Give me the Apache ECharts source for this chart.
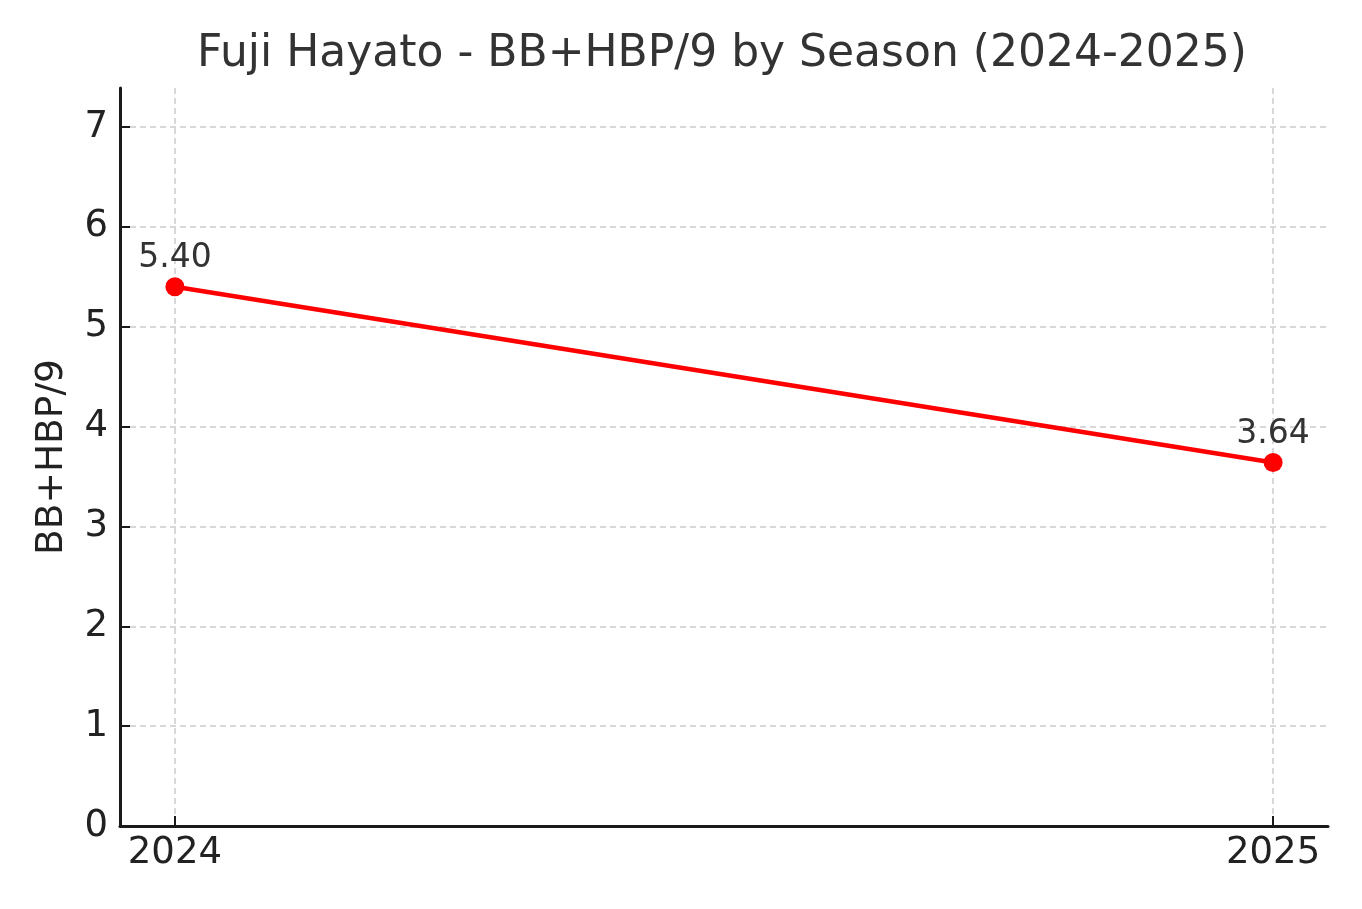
<!DOCTYPE html>
<html>
<head>
<meta charset="utf-8">
<script src="https://cdn.jsdelivr.net/npm/echarts@6/dist/echarts.min.js"></script>
<style>
html,body{margin:0;padding:0;background:#fff;}
#chart{width:1362px;height:909px;}
</style>
</head>
<body>
<div id="chart"></div>
<script>
var seasons = [2024, 2025];
var bbHbp9 = [5.40, 3.64];
var yTicks = [0, 1, 2, 3, 4, 5, 6, 7];

var chart = echarts.init(document.getElementById('chart'), null, {renderer: 'canvas'});
var font = 'DejaVu Sans';
chart.setOption({
  animation: false,
  backgroundColor: '#ffffff',
  title: {
    text: 'Fuji Hayato - BB+HBP/9 by Season (2024-2025)',
    left: 192,
    top: 28,
    textStyle: {fontFamily: font, fontSize: 44, fontWeight: 'normal', color: '#333333'}
  },
  grid: {left: 120, right: 34, top: 88, bottom: 83, containLabel: false},
  xAxis: {
    type: 'value',
    min: 2023.95,
    max: 2025.05,
    axisLine: {show: true, lineStyle: {color: '#1a1a1a', width: 3}},
    axisTick: {show: true, inside: true, length: 10, customValues: seasons, lineStyle: {color: '#1a1a1a', width: 2}},
    axisLabel: {customValues: seasons, formatter: function (v) { return String(v); }, fontFamily: font, fontSize: 37, color: '#222222', margin: 9},
    splitLine: {show: true, lineStyle: {type: [6, 4], color: '#cccccc', width: 1.5}}
  },
  yAxis: {
    type: 'value',
    min: 0,
    max: 7.39,
    interval: 1,
    name: 'BB+HBP/9',
    nameLocation: 'middle',
    nameGap: 49,
    nameRotate: 90,
    nameTextStyle: {fontFamily: font, fontSize: 37.5, color: '#222222'},
    axisLine: {show: true, lineStyle: {color: '#1a1a1a', width: 3}},
    axisTick: {show: true, inside: true, length: 10, customValues: yTicks, lineStyle: {color: '#1a1a1a', width: 2}},
    axisLabel: {customValues: yTicks, fontFamily: font, fontSize: 37, color: '#222222', margin: 12},
    splitLine: {show: true, lineStyle: {type: [6, 4], color: '#cccccc', width: 1.5}}
  },
  series: [{
    type: 'line',
    data: seasons.map(function (s, i) { return [s, bbHbp9[i]]; }),
    symbol: 'circle',
    symbolSize: 19,
    itemStyle: {color: '#ff0000'},
    lineStyle: {color: '#ff0000', width: 4.5},
    label: {
      show: true,
      position: 'top',
      distance: 2,
      formatter: function (p) { return p.value[1].toFixed(2); },
      fontFamily: font,
      fontSize: 33,
      color: '#333333'
    }
  }]
});
</script>
</body>
</html>
